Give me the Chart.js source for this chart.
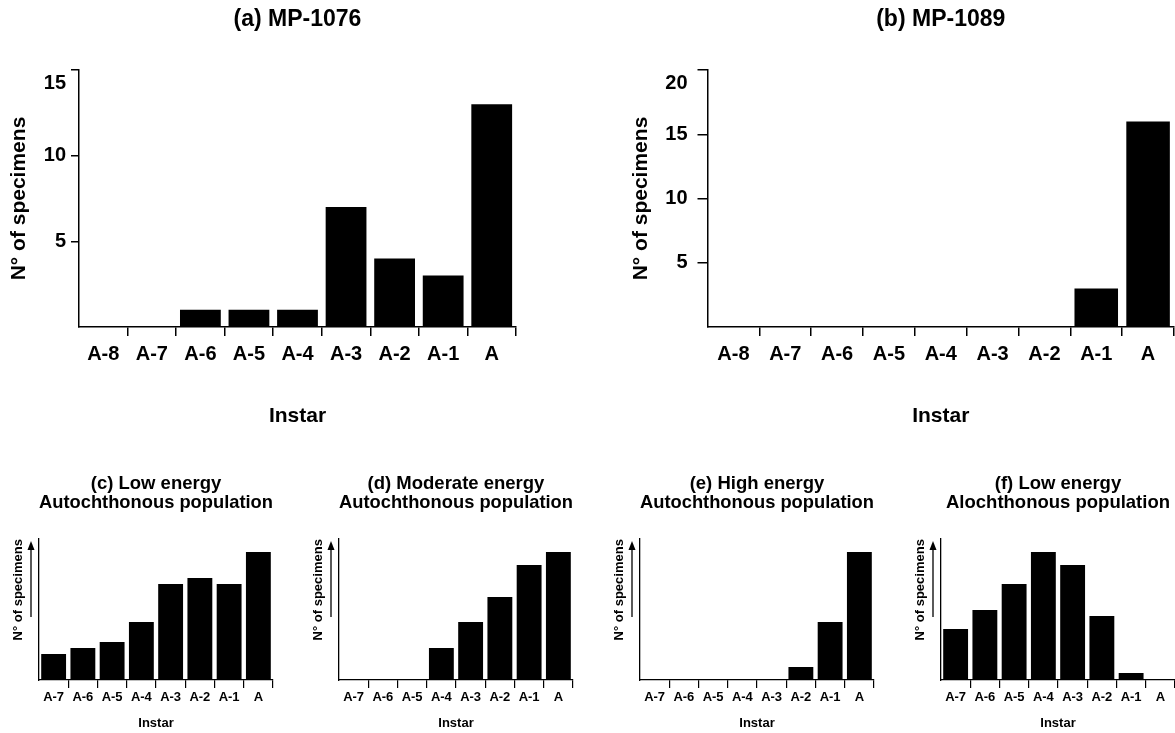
<!DOCTYPE html>
<html>
<head>
<meta charset="utf-8">
<script src="https://cdn.jsdelivr.net/npm/chart.js@4.4.0/dist/chart.umd.min.js"></script>
<style>
  html, body { margin: 0; padding: 0; background: #fff; }
  #wrap { position: relative; width: 1175px; height: 733px; overflow: hidden; background: #fff; }
  #wrap canvas { position: absolute; }
</style>
</head>
<body>
<div id="wrap">
  <canvas id="chartA" width="540" height="440" style="left:0;top:0"></canvas>
  <canvas id="chartB" width="575" height="440" style="left:600px;top:0"></canvas>
  <canvas id="chartC" width="275" height="283" style="left:0;top:450px"></canvas>
  <canvas id="chartD" width="275" height="283" style="left:300px;top:450px"></canvas>
  <canvas id="chartE" width="275" height="283" style="left:601px;top:450px"></canvas>
  <canvas id="chartF" width="275" height="283" style="left:902px;top:450px"></canvas>
</div>
<script>
// instar classes
const instarsBig = ['A-8', 'A-7', 'A-6', 'A-5', 'A-4', 'A-3', 'A-2', 'A-1', 'A'];
const instarsSmall = ['A-7', 'A-6', 'A-5', 'A-4', 'A-3', 'A-2', 'A-1', 'A'];

// specimen counts per instar (a) and (b)
const countsMP1076 = [0, 0, 1, 1, 1, 7, 4, 3, 13];
const countsMP1089 = [0, 0, 0, 0, 0, 0, 0, 3, 16];

// theoretical models (c)-(f), relative heights only (no y scale shown)
const lowEnergyAuto = [2.6, 3.2, 3.8, 5.8, 9.6, 10.2, 9.6, 12.8];
const moderateEnergyAuto = [0, 0, 0, 3.2, 5.8, 8.3, 11.5, 12.8];
const highEnergyAuto = [0, 0, 0, 0, 0, 1.3, 5.8, 12.8];
const lowEnergyAlloch = [5.1, 7.0, 9.6, 12.8, 11.5, 6.4, 0.7, 0];

const FONT = '"Liberation Sans", Arial, Helvetica, sans-serif';

// no tick mark where the two axes meet
const hideFirst = (c) => c.index === 0 ? 'rgba(0,0,0,0)' : '#000';

// small upward arrow beside the y title of the model panels
const arrowPlugin = {
    id: 'upArrow',
    afterDraw(chart) {
        const { ctx, chartArea } = chart;
        const x = chartArea.left - 8;
        const tip = chartArea.top + 2;
        ctx.save();
        ctx.strokeStyle = '#000';
        ctx.fillStyle = '#000';
        ctx.lineWidth = 1.3;
        ctx.beginPath();
        ctx.moveTo(x, chartArea.top + 78);
        ctx.lineTo(x, tip + 6);
        ctx.stroke();
        ctx.beginPath();
        ctx.moveTo(x, tip);
        ctx.lineTo(x - 3.5, tip + 9);
        ctx.lineTo(x + 3.5, tip + 9);
        ctx.closePath();
        ctx.fill();
        ctx.restore();
    }
};

// the top y label sits a bit below its tick in the original figure
const topLabelPlugin = {
    id: 'topLabel',
    afterDraw(chart) {
        const y = chart.scales.y;
        const o = y.options;
        const ctx = chart.ctx;
        ctx.save();
        ctx.font = 'bold 20px ' + FONT;
        ctx.fillStyle = '#000';
        ctx.textAlign = 'right';
        ctx.textBaseline = 'middle';
        ctx.fillText(String(y.max), y.right - o.grid.tickLength - o.ticks.padding, y.getPixelForValue(y.max) + 13);
        ctx.restore();
    }
};

function bigChart(id, title, values, yMax, yWidth, yTitlePad, padRight, yTick, yTickPad) {
    return new Chart(document.getElementById(id), {
        type: 'bar',
        data: {
            labels: instarsBig,
            datasets: [{
                data: values,
                backgroundColor: '#000',
                borderWidth: 0,
                barPercentage: 0.84,
                categoryPercentage: 1
            }]
        },
        options: {
            responsive: false,
            animation: false,
            layout: { padding: { left: 0, right: padRight, top: 0, bottom: 0 } },
            plugins: {
                legend: { display: false },
                tooltip: { enabled: false },
                title: {
                    display: true,
                    text: title,
                    fullSize: false,
                    color: '#000',
                    font: { family: FONT, size: 23, weight: 'bold', lineHeight: 1.2 },
                    padding: { top: 6.2, bottom: 36.2 }
                }
            },
            scales: {
                x: {
                    grid: { drawOnChartArea: false, tickLength: 9, color: hideFirst, lineWidth: 1.5 },
                    border: { color: '#000', width: 1.5 },
                    ticks: { color: '#000', padding: 6, font: { family: FONT, size: 20, weight: 'bold' } },
                    title: {
                        display: true, text: 'Instar', color: '#000',
                        font: { family: FONT, size: 21, weight: 'bold', lineHeight: 1.2 },
                        padding: { top: 0, bottom: 11.4 }
                    },
                    afterFit: (s) => { s.height = 113; }
                },
                y: {
                    min: 0,
                    max: yMax,
                    grid: { drawOnChartArea: false, tickLength: yTick, color: hideFirst, lineWidth: 1.5 },
                    border: { color: '#000', width: 1.5 },
                    ticks: {
                        stepSize: 5, color: '#000', padding: yTickPad,
                        font: { family: FONT, size: 20, weight: 'bold' },
                        callback: (v) => (v === 0 || v === yMax) ? '' : v
                    },
                    title: {
                        display: true, text: 'N° of specimens', color: '#000',
                        font: { family: FONT, size: 21, weight: 'bold', lineHeight: 1.2 },
                        padding: { top: yTitlePad, bottom: 0 }
                    },
                    afterFit: (s) => { s.width = yWidth; }
                }
            }
        },
        plugins: [topLabelPlugin]
    });
}

function modelChart(id, title, values) {
    return new Chart(document.getElementById(id), {
        type: 'bar',
        data: {
            labels: instarsSmall,
            datasets: [{
                data: values,
                backgroundColor: '#000',
                borderWidth: 0,
                barPercentage: 0.85,
                categoryPercentage: 1
            }]
        },
        options: {
            responsive: false,
            animation: false,
            layout: { padding: { left: 0, right: 2, top: 0, bottom: 0 } },
            plugins: {
                legend: { display: false },
                tooltip: { enabled: false },
                title: {
                    display: true,
                    text: title,
                    fullSize: false,
                    color: '#000',
                    font: { family: FONT, size: 18.5, weight: 'bold', lineHeight: 1.03 },
                    padding: { top: 24.5, bottom: 26.5 }
                }
            },
            scales: {
                x: {
                    grid: { drawOnChartArea: false, tickLength: 8, color: hideFirst, lineWidth: 1.2 },
                    border: { color: '#000', width: 1.3 },
                    ticks: { color: '#000', padding: 1.2, font: { family: FONT, size: 13, weight: 'bold' } },
                    title: {
                        display: true, text: 'Instar', color: '#000',
                        font: { family: FONT, size: 13, weight: 'bold', lineHeight: 1.2 },
                        padding: { top: 0, bottom: 2.2 }
                    },
                    afterFit: (s) => { s.height = 53; }
                },
                y: {
                    min: 0,
                    max: 14.1,
                    grid: { display: false },
                    border: { display: true, color: '#000', width: 1.3 },
                    ticks: { display: false },
                    title: {
                        display: true, text: 'N° of specimens', color: '#000', align: 'end',
                        font: { family: FONT, size: 13, weight: 'bold', lineHeight: 1.2 },
                        padding: { top: 10.2, bottom: 0 }
                    },
                    afterFit: (s) => { s.width = 39; }
                }
            }
        },
        plugins: [arrowPlugin]
    });
}

bigChart('chartA', '(a) MP-1076', countsMP1076, 15, 79, 6.4, 24, 8, 5);
bigChart('chartB', '(b) MP-1089', countsMP1089, 20, 107.5, 28.4, 1, 10, 10);

modelChart('chartC', ['(c) Low energy', 'Autochthonous population'], lowEnergyAuto);
modelChart('chartD', ['(d) Moderate energy', 'Autochthonous population'], moderateEnergyAuto);
modelChart('chartE', ['(e) High energy', 'Autochthonous population'], highEnergyAuto);
modelChart('chartF', ['(f) Low energy', 'Alochthonous population'], lowEnergyAlloch);
</script>
</body>
</html>
